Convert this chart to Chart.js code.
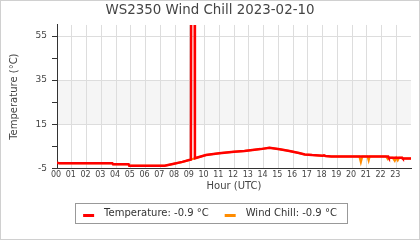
<!DOCTYPE html>
<html>
<head>
<meta charset="utf-8">
<script src="https://cdn.jsdelivr.net/npm/chart.js@4"></script>
<style>
  html, body { margin: 0; padding: 0; background: #fff; }
</style>
</head>
<body>
<canvas id="chart" width="420" height="240"></canvas>
<script>
// ── Data ──
const chartTitle = 'WS2350 Wind Chill 2023-02-10';
const hourLabels = ['00', '01', '02', '03', '04', '05', '06', '07', '08', '09', '10', '11',
  '12', '13', '14', '15', '16', '17', '18', '19', '20', '21', '22', '23'];
const yTickValues = [-5, 5, 15, 25, 35, 45, 55];
const yLabelValues = [-5, 15, 35, 55];
const comfortBand = [15, 35];

const tempLabel = 'Temperature: -0.9 °C';
const tempHours = [0, 0.15, 3.75, 3.8, 4.85, 4.9, 7.3, 7.85, 8.5, 9.08,
  9.1, 9.33, 9.35, 10.1, 11, 12, 12.7, 13.25, 13.8, 14.4,
  15.1, 15.76, 16.4, 16.8, 17.3, 18, 18.1, 18.2, 18.6, 22.45,
  22.5, 23.4, 23.45, 24];
const tempValues = [-2.5, -2.7, -2.7, -3.2, -3.2, -3.8, -3.8, -3.05, -2.1, -1.0,
  90, 90, -0.45, 1.05, 1.8, 2.55, 2.85, 3.3, 3.7, 4.3,
  3.6, 2.85, 1.9, 1.3, 1.0, 0.7, 0.9, 0.6, 0.4, 0.4,
  -0.2, -0.2, -0.6, -0.6];

const chillLabel = 'Wind Chill: -0.9 °C';
const chillHours = [0, 0.15, 3.75, 3.8, 4.85, 4.9, 7.3, 7.85, 8.5, 9.08,
  9.35, 10.1, 11, 12, 12.7, 13.25, 13.8, 14.4, 15.1, 15.76,
  16.4, 16.8, 17.3, 18, 18.6, 20.5, 20.6, 20.7, 21.05, 21.13,
  21.2, 22.3, 22.43, 22.5, 22.75, 22.9, 23.0, 23.1, 23.2, 23.4,
  23.45, 24];
const chillValues = [-2.5, -2.7, -2.7, -3.2, -3.2, -3.8, -3.8, -3.05, -2.1, -1.0,
  -0.45, 1.05, 1.8, 2.55, 2.85, 3.3, 3.7, 4.3, 3.6, 2.85,
  1.9, 1.3, 1.0, 0.7, 0.4, 0.4, -2.3, 0.4, 0.4, -1.5,
  0.4, 0.4, -0.9, -0.2, -0.2, -1.7, -0.2, -1.4, -0.2, -0.2,
  -0.6, -0.6];

const TEXT = '#444';
const AXIS = '#333';
const GRID = '#dddddd';
const NONE = 'rgba(0,0,0,0)';

Chart.defaults.font.family = "'DejaVu Sans', sans-serif";

// ── Extras: shaded band, legend frame + samples, outer border ──
const decor = {
  id: 'decor',
  beforeDraw(chart) {
    const {ctx, chartArea: a, scales: {y}} = chart;
    const top = y.getPixelForValue(comfortBand[1]);
    const bottom = y.getPixelForValue(comfortBand[0]);
    ctx.save();
    ctx.fillStyle = '#f5f5f5';
    ctx.fillRect(a.left, top, a.right - a.left, bottom - top);
    ctx.restore();
  },
  afterDraw(chart) {
    const {ctx, legend} = chart;
    const boxes = legend.legendHitBoxes;
    ctx.save();
    boxes.forEach((b, i) => {
      ctx.strokeStyle = chart.data.datasets[i].borderColor;
      ctx.lineWidth = 3;
      ctx.beginPath();
      ctx.moveTo(b.left, b.top + 7);
      ctx.lineTo(b.left + 11, b.top + 7);
      ctx.stroke();
    });
    const first = boxes[0], last = boxes[boxes.length - 1];
    const x0 = Math.round(first.left - 8) + 0.5;
    const x1 = Math.round(last.left + last.width + 10) + 0.5;
    const y0 = Math.round(first.top - 5) + 0.5;
    ctx.strokeStyle = '#999';
    ctx.lineWidth = 1;
    ctx.strokeRect(x0, y0, x1 - x0, 20);
    ctx.strokeStyle = '#d0d0d0';
    ctx.strokeRect(0.5, 0.5, chart.width - 1, chart.height - 1);
    ctx.restore();
  }
};

new Chart(document.getElementById('chart'), {
  type: 'line',
  data: {
    datasets: [
      {
        label: tempLabel,
        data: tempHours.map((h, i) => ({x: h, y: tempValues[i]})),
        borderColor: '#ff0000',
        borderWidth: 2.5,
        pointRadius: 0,
        tension: 0,
        clip: 0,
      },
      {
        label: chillLabel,
        data: chillHours.map((h, i) => ({x: h, y: chillValues[i]})),
        borderColor: '#ff8c00',
        borderWidth: 2,
        pointRadius: 0,
        tension: 0,
        clip: 0,
      },
    ],
  },
  options: {
    responsive: false,
    animation: false,
    events: [],
    layout: { padding: {top: 0, left: 0, right: 0, bottom: 11.5} },
    plugins: {
      title: {
        display: true, text: chartTitle, color: TEXT,
        font: {size: 13.4, weight: 'normal'},
        padding: {top: 2.5, bottom: 6.4},
      },
      legend: {
        position: 'bottom',
        labels: {
          boxWidth: 16, boxHeight: 3, padding: 16, color: '#333', font: {size: 10},
          generateLabels(chart) {
            const items = Chart.defaults.plugins.legend.labels.generateLabels(chart);
            items.forEach(it => { it.fillStyle = NONE; it.strokeStyle = NONE; it.lineWidth = 0; });
            return items;
          },
        },
      },
      tooltip: { enabled: false },
    },
    scales: {
      x: {
        type: 'linear', min: 0, max: 24,
        afterBuildTicks: s => { s.ticks = hourLabels.map((_, i) => ({value: i})).concat([{value: 24}]); },
        ticks: {
          autoSkip: false, maxRotation: 0, padding: 2, labelOffset: -1,
          color: TEXT, font: {size: 8},
          callback: v => hourLabels[v] ?? '',
        },
        grid: {
          drawTicks: false,
          color: c => (c.tick && c.tick.value > 0 && c.tick.value < 24) ? GRID : NONE,
        },
        border: { color: AXIS },
        title: { display: true, text: 'Hour (UTC)', color: TEXT, font: {size: 10}, padding: 0 },
        afterFit: s => { s.height = 24.2; },
      },
      y: {
        type: 'linear', min: -5, max: 60,
        afterBuildTicks: s => { s.ticks = yTickValues.map(v => ({value: v})); },
        ticks: {
          padding: 5, color: TEXT, font: {size: 9},
          callback: v => yLabelValues.includes(v) ? String(v) : '',
        },
        grid: {
          tickLength: 5, tickColor: AXIS,
          color: c => (c.tick && c.tick.value > -5 && yLabelValues.includes(c.tick.value)) ? GRID : NONE,
        },
        border: { color: AXIS },
        title: { display: true, text: 'Temperature (°C)', color: TEXT, font: {size: 10}, padding: {top: 8, bottom: 0} },
        afterFit: s => { s.width = 57; },
      },
      right: {
        type: 'linear', position: 'right',
        ticks: { display: false }, grid: { display: false }, border: { display: false },
        afterFit: s => { s.width = 9; },
      },
    },
  },
  plugins: [decor],
});
</script>
</body>
</html>
